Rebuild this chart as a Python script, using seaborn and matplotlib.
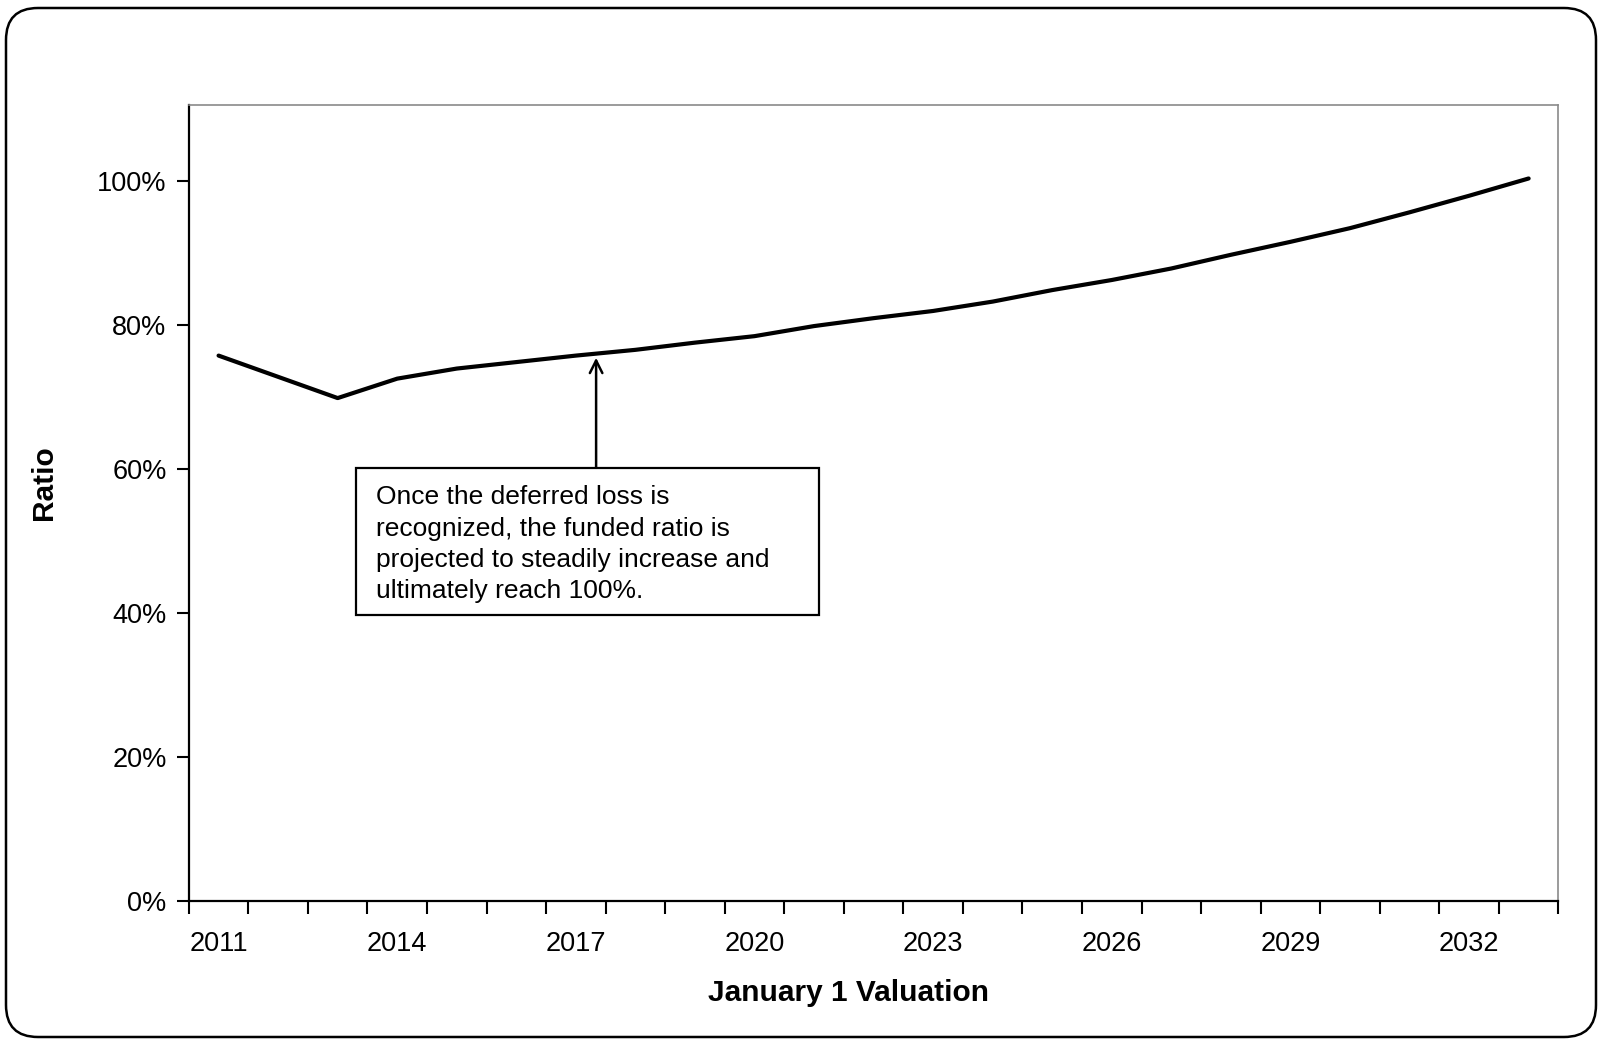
import numpy as np
import pandas as pd
import matplotlib
matplotlib.use("Agg")
import matplotlib.pyplot as plt
from matplotlib.patches import FancyBboxPatch, Rectangle
from matplotlib.ticker import FixedLocator, FuncFormatter
import seaborn as sns

# ------------------------------
# Data
# ------------------------------
years = list(range(2011, 2034))
funded_ratio = [
    75.7, 72.75, 69.8, 72.5, 73.9, 74.8, 75.7, 76.5, 77.5, 78.4, 79.8, 80.9,
    81.9, 83.2, 84.8, 86.2, 87.8, 89.7, 91.5, 93.4, 95.6, 97.9, 100.3,
]
label_years = [2011, 2014, 2017, 2020, 2023, 2026, 2029, 2032]
y_ticks = [0, 20, 40, 60, 80, 100]
note_text = (
    "Once the deferred loss is\n"
    "recognized, the funded ratio is\n"
    "projected to steadily increase and\n"
    "ultimately reach 100%."
)

sns.set_style("white")
plt.rcParams["font.family"] = ["Liberation Sans", "DejaVu Sans"]
plt.rcParams["text.color"] = "black"
plt.rcParams["axes.labelcolor"] = "black"
plt.rcParams["xtick.color"] = "black"
plt.rcParams["ytick.color"] = "black"

df = pd.DataFrame({"Year": years, "Ratio": funded_ratio})

fig = plt.figure(figsize=(16, 10.4), dpi=100)

# rounded outer frame
frame = FancyBboxPatch(
    (0.06, 0.03), 15.9, 10.29,
    boxstyle="round,pad=0,rounding_size=0.32",
    transform=fig.dpi_scale_trans,
    facecolor="none", edgecolor="black", linewidth=1.8,
)
fig.patches.append(frame)

ax = fig.add_axes([0.118, 0.134, 0.856, 0.765])
sns.lineplot(data=df, x="Year", y="Ratio", color="black", linewidth=3, ax=ax)

ax.set_xlim(years[0] - 0.5, years[-1] + 0.5)
ax.set_ylim(0, 110.5)

# x axis: category style ticks between years, labels every third year
ax.xaxis.set_major_locator(FixedLocator(label_years))
ax.xaxis.set_minor_locator(FixedLocator(np.arange(years[0] - 0.5, years[-1] + 1.0, 1.0)))
ax.tick_params(axis="x", which="major", length=0, pad=22, labelsize=19.5)
ax.tick_params(axis="x", which="minor", length=9, width=1.5, direction="out",
               bottom=True, color="black")

ax.yaxis.set_major_locator(FixedLocator(y_ticks))
ax.yaxis.set_major_formatter(FuncFormatter(lambda v, p: f"{v:.0f}%"))
ax.tick_params(axis="y", length=9, width=1.5, direction="out", left=True,
               pad=7, labelsize=19.5, color="black")

for side in ["left", "bottom"]:
    ax.spines[side].set_color("black")
    ax.spines[side].set_linewidth(1.6)
for side in ["top", "right"]:
    ax.spines[side].set_color("#8a8a8a")
    ax.spines[side].set_linewidth(1.2)

ax.set_xlabel("January 1 Valuation", fontsize=21.5, fontweight="bold")
ax.set_ylabel("Ratio", fontsize=21.5, fontweight="bold")
ax.xaxis.set_label_coords(0.482, -0.098)
ax.yaxis.set_label_coords(-0.0955, 0.525)

# annotation box with arrow
ax.add_patch(Rectangle((0.122, 0.359), 0.338, 0.185, transform=ax.transAxes,
                       facecolor="white", edgecolor="black", linewidth=1.6, zorder=4))
ax.text(0.137, 0.448, note_text, transform=ax.transAxes, fontsize=19,
        ha="left", va="center", linespacing=1.38, zorder=5)
ax.annotate(
    "", xy=(2017.34, 75.4), xytext=(2017.34, 0.544 * 110.5),
    arrowprops=dict(arrowstyle="->,head_length=0.9,head_width=0.45",
                    color="black", lw=1.8, shrinkA=0, shrinkB=0),
    zorder=5,
)

fig.savefig("out.png", dpi=100)
